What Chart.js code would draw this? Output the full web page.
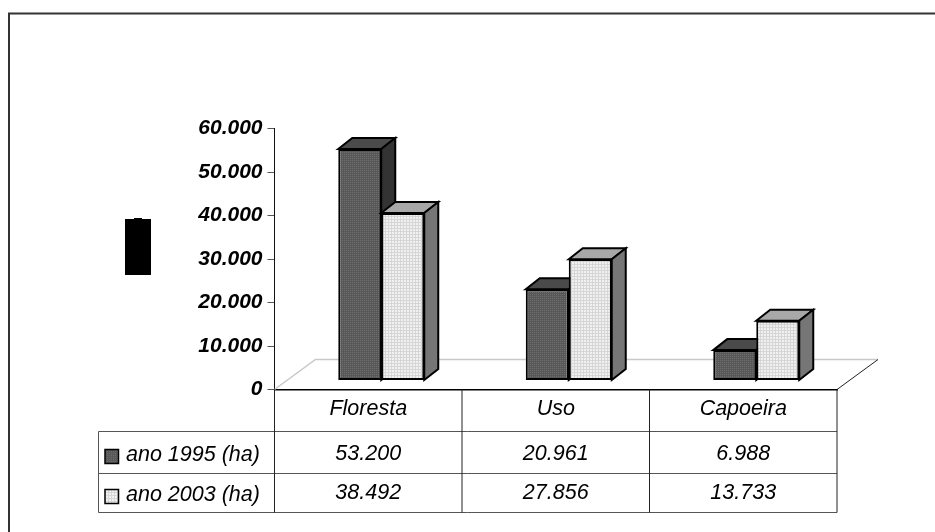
<!DOCTYPE html>
<html>
<head>
<meta charset="utf-8">
<style>
  html, body { margin: 0; padding: 0; background: #fff; }
  #wrap { position: absolute; left: 0; top: 0; width: 935px; height: 532px; }
</style>
<script src="https://cdn.jsdelivr.net/npm/chart.js@4"></script>
</head>
<body>
<div id="wrap"><canvas id="chart" width="935" height="532"></canvas></div>
<script>
// Data
const categorias = ['Floresta', 'Uso', 'Capoeira'];
const ano1995 = [53200, 20961, 6988];
const ano2003 = [38492, 27856, 13733];
const textos1995 = ['53.200', '20.961', '6.988'];
const textos2003 = ['38.492', '27.856', '13.733'];
const nomes = ['ano 1995 (ha)', 'ano 2003 (ha)'];
const yTicks = [0, 10000, 20000, 30000, 40000, 50000, 60000];

const FONT = '"Liberation Sans", Arial, sans-serif';

// Hachuras
function trama(fundo, ponto, passo) {
  const c = document.createElement('canvas');
  c.width = c.height = passo;
  const g = c.getContext('2d');
  g.fillStyle = fundo;
  g.fillRect(0, 0, passo, passo);
  g.fillStyle = ponto;
  g.fillRect(0, 0, 1, passo);
  g.fillRect(0, 0, passo, 1);
  return c.getContext('2d').createPattern(c, 'repeat');
}
const padraoEscuro = trama('#6e6e6e', '#585858', 2);
const padraoClaro = trama('#f0f0f0', '#d6d6d6', 3);

// Deslocamento da frente das barras em relacao ao plano do eixo
const DX = 13, DY = -9;
// Profundidade da barra e do piso
const PX = 14, PY = -11;
const PISO_X = 41, PISO_Y = -30;

const cores = [
  { topo: '#4a4a4a', lado: '#333333' },
  { topo: '#a8a8a8', lado: '#767676' }
];

function poligono(ctx, pts, fill) {
  ctx.beginPath();
  pts.forEach((p, i) => i ? ctx.lineTo(p[0], p[1]) : ctx.moveTo(p[0], p[1]));
  ctx.closePath();
  ctx.fillStyle = fill;
  ctx.fill();
  ctx.stroke();
}

// Piso, moldura e bloco preto do titulo (antes das barras)
const fundoPlugin = {
  id: 'fundo',
  beforeDatasetsDraw(chart) {
    const ctx = chart.ctx;
    const { left, right, bottom } = chart.chartArea;
    ctx.save();
    ctx.strokeStyle = '#333';
    ctx.lineWidth = 2;
    ctx.beginPath();
    ctx.moveTo(9, 532);
    ctx.lineTo(9, 13.5);
    ctx.lineTo(935, 13.5);
    ctx.stroke();
    ctx.fillStyle = '#000';
    ctx.fillRect(125, 219, 26, 56);
    ctx.fillRect(134, 218, 8, 1);
    ctx.strokeStyle = '#c8c8c8';
    ctx.lineWidth = 1.5;
    ctx.beginPath();
    ctx.moveTo(left, bottom);
    ctx.lineTo(left + PISO_X, bottom + PISO_Y);
    ctx.lineTo(right + PISO_X, bottom + PISO_Y);
    ctx.stroke();
    ctx.strokeStyle = '#222';
    ctx.lineWidth = 1;
    ctx.beginPath();
    ctx.moveTo(right, bottom);
    ctx.lineTo(right + PISO_X, bottom + PISO_Y);
    ctx.stroke();
    ctx.restore();
  }
};

// Lados e topos em 3D a partir dos elementos do Chart.js
function desenhaFaces(chart, index) {
  const ctx = chart.ctx;
  const meta = chart.getDatasetMeta(index);
  const c = cores[index];
  ctx.strokeStyle = '#000';
  ctx.lineWidth = 2;
  ctx.lineJoin = 'miter';
  meta.data.forEach(b => {
    const x0 = b.x - b.width / 2, x1 = b.x + b.width / 2;
    poligono(ctx, [[x0, b.y], [x0 + PX, b.y + PY], [x1 + PX, b.y + PY], [x1, b.y]], c.topo);
    poligono(ctx, [[x1, b.y], [x1 + PX, b.y + PY], [x1 + PX, b.base + PY], [x1, b.base]], c.lado);
  });
}

// A serie 2003 tem de ficar por cima da serie 1995, por isso e desenhada depois
const barras3d = {
  id: 'barras3d',
  beforeDatasetDraw(chart, args) {
    if (args.index === 1) return false;
    const ctx = chart.ctx;
    ctx.save();
    ctx.translate(DX, DY);
    desenhaFaces(chart, 0);
  },
  afterDatasetDraw(chart, args) {
    if (args.index !== 0) return;
    const ctx = chart.ctx;
    desenhaFaces(chart, 1);
    chart.getDatasetMeta(1).controller.draw();
    ctx.restore();
  }
};

// Tabela de dados abaixo do grafico
const tabelaPlugin = {
  id: 'tabela',
  afterDraw(chart) {
    const ctx = chart.ctx;
    const { left, right, bottom } = chart.chartArea;
    const xs = chart.scales.x;
    const l1 = 431.5, l2 = 473.5, l3 = 512.5, esq = 98.5;
    const passo = (right - left) / categorias.length;
    ctx.save();
    ctx.strokeStyle = '#555';
    ctx.lineWidth = 1;
    ctx.beginPath();
    [l1, l2, l3].forEach(y => { ctx.moveTo(esq, y); ctx.lineTo(right, y); });
    ctx.moveTo(esq, l1); ctx.lineTo(esq, l3);
    ctx.stroke();
    ctx.strokeStyle = '#222';
    ctx.beginPath();
    for (let i = 0; i <= categorias.length; i++) {
      ctx.moveTo(left + passo * i, bottom);
      ctx.lineTo(left + passo * i, l3);
    }
    ctx.stroke();
    ctx.fillStyle = '#000';
    ctx.font = 'italic 21.5px ' + FONT;
    ctx.textAlign = 'center';
    ctx.textBaseline = 'middle';
    categorias.forEach((_, i) => {
      const x = xs.getPixelForValue(i);
      ctx.fillText(textos1995[i], x, 454);
      ctx.fillText(textos2003[i], x, 493);
    });
    ctx.textAlign = 'left';
    ctx.fillText(nomes[0], 126, 455);
    ctx.fillText(nomes[1], 126, 495);
    ctx.strokeStyle = '#000';
    ctx.lineWidth = 1.5;
    ctx.fillStyle = padraoEscuro;
    ctx.fillRect(105, 449.5, 13.5, 14);
    ctx.strokeRect(105, 449.5, 13.5, 14);
    ctx.fillStyle = padraoClaro;
    ctx.fillRect(105, 489.5, 13.5, 14);
    ctx.strokeRect(105, 489.5, 13.5, 14);
    ctx.restore();
  }
};

new Chart(document.getElementById('chart'), {
  type: 'bar',
  data: {
    labels: categorias,
    datasets: [
      { label: nomes[0], data: ano1995, backgroundColor: padraoEscuro, borderColor: '#000', borderWidth: 2, borderSkipped: false },
      { label: nomes[1], data: ano2003, backgroundColor: padraoClaro, borderColor: '#000', borderWidth: 2, borderSkipped: false }
    ]
  },
  options: {
    responsive: false,
    animation: false,
    events: [],
    layout: { padding: { left: 0, top: 128.5, right: 98, bottom: 0 } },
    datasets: { bar: { categoryPercentage: 0.4587, barPercentage: 1 } },
    plugins: { legend: { display: false }, tooltip: { enabled: false }, title: { display: false } },
    scales: {
      y: {
        min: 0, max: 60000,
        afterFit(s) { s.width = 274.5; },
        afterBuildTicks(s) { s.ticks = yTicks.map(v => ({ value: v })); },
        grid: { display: true, drawOnChartArea: false, drawTicks: true, tickLength: 7, tickColor: '#555', lineWidth: 1 },
        border: { display: true, color: '#111', width: 1 },
        ticks: {
          padding: 5,
          color: '#000',
          font: { family: FONT, size: 21, style: 'italic', weight: 'bold' },
          callback: v => v === 0 ? '0' : (v / 1000).toFixed(0) + '.000'
        }
      },
      x: {
        afterFit(s) { s.height = 142.5; },
        grid: { display: false, drawTicks: false },
        border: { display: true, color: '#000', width: 1.5 },
        ticks: {
          padding: 7,
          color: '#000',
          maxRotation: 0,
          font: { family: FONT, size: 21.5, style: 'italic' }
        }
      }
    }
  },
  plugins: [fundoPlugin, barras3d, tabelaPlugin]
});
</script>
</body>
</html>
